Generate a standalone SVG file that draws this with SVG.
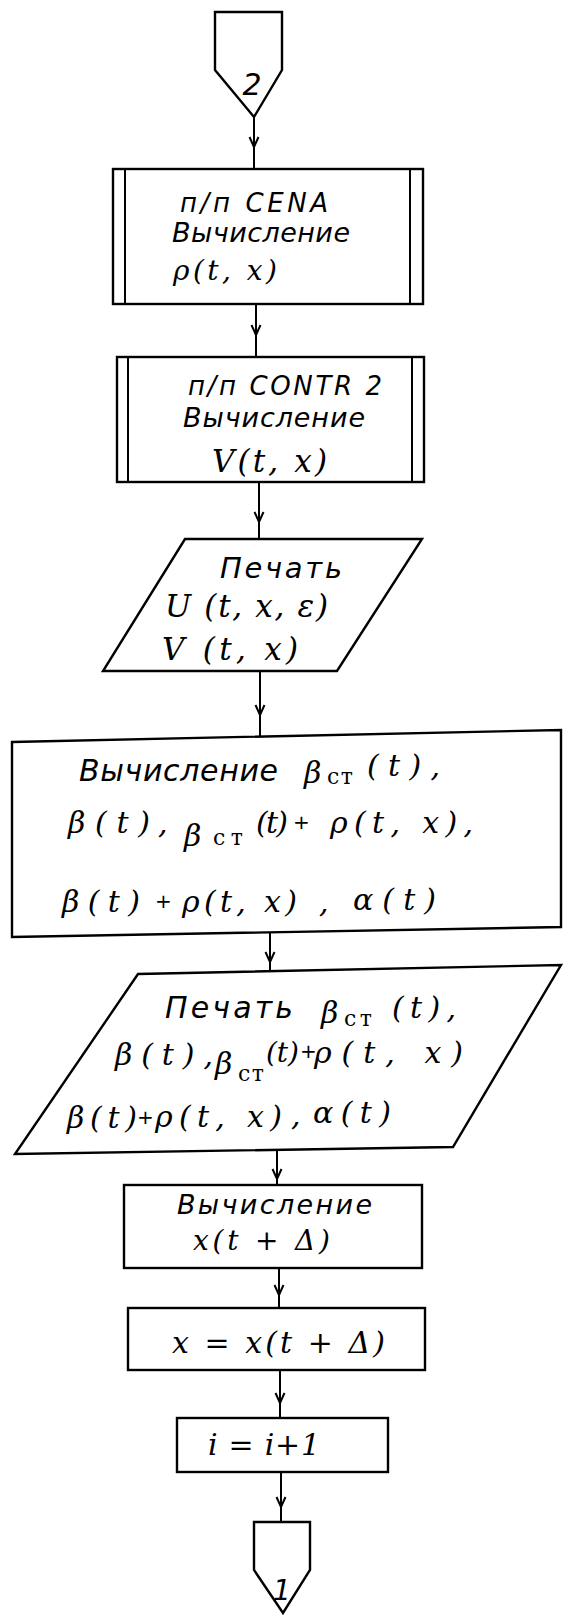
<svg xmlns="http://www.w3.org/2000/svg" width="563" height="1615" viewBox="0 0 563 1615">
<style>
.sh{fill:none;stroke:#000;stroke-width:2.4;stroke-linejoin:miter}
.in{fill:none;stroke:#000;stroke-width:2}
.cn{fill:none;stroke:#000;stroke-width:2}
.s{font-family:"DejaVu Sans","Liberation Sans",sans-serif;font-style:italic;fill:#000}
.m{font-family:"DejaVu Serif","Liberation Serif",serif;font-style:italic;fill:#000}
.b{font-size:30px}
.sub{font-size:22px;font-style:normal}
.pl{font-family:"DejaVu Sans","Liberation Sans",sans-serif;font-size:20px;fill:#000}
</style>
<defs>
<marker id="v" viewBox="-11 -6 13 12" markerWidth="13" markerHeight="12" refX="0" refY="0" orient="auto" markerUnits="userSpaceOnUse">
<path d="M-10,-4.5 L0,0 L-10,4.5" fill="none" stroke="#000" stroke-width="2"/>
</marker>
</defs>
<rect width="563" height="1615" fill="#fff"/>

<g id="connectors">
<polyline class="cn" marker-mid="url(#v)" points="254,117 254,147 254,169"/>
<polyline class="cn" marker-mid="url(#v)" points="256,304 256,335 256,357"/>
<polyline class="cn" marker-mid="url(#v)" points="259,482 259,522 259,539"/>
<polyline class="cn" marker-mid="url(#v)" points="260,671 260,715 260,736"/>
<polyline class="cn" marker-mid="url(#v)" points="270,933 270,962 270,971"/>
<polyline class="cn" marker-mid="url(#v)" points="277,1151 277,1179 277,1185"/>
<polyline class="cn" marker-mid="url(#v)" points="279,1268 279,1295 279,1308"/>
<polyline class="cn" marker-mid="url(#v)" points="280,1370 280,1403 280,1418"/>
<polyline class="cn" marker-mid="url(#v)" points="281,1472 281,1507 281,1522"/>
</g>

<g id="conn2">
<path class="sh" d="M215,12 H282 V70 L254,117 L215,70 Z"/>
<text class="s" x="252" y="95" font-size="30" text-anchor="middle">2</text>
</g>

<g id="cena">
<rect class="sh" x="113" y="169" width="310" height="135"/>
<line class="in" x1="125" y1="169" x2="125" y2="304"/>
<line class="in" x1="410" y1="169" x2="410" y2="304"/>
<text class="s" x="180" y="212" font-size="26" textLength="148">п/п CENA</text>
<text class="s" x="172" y="242" font-size="27" textLength="178">Вычисление</text>
<text class="m" x="173" y="280" font-size="28" textLength="104">ρ(t, x)</text>
</g>

<g id="contr2">
<rect class="sh" x="117" y="357" width="307" height="125"/>
<line class="in" x1="128" y1="357" x2="128" y2="482"/>
<line class="in" x1="412" y1="357" x2="412" y2="482"/>
<text class="s" x="188" y="395" font-size="26" textLength="194">п/п CONTR 2</text>
<text class="s" x="183" y="427" font-size="27" textLength="182">Вычисление</text>
<text class="m" x="212" y="472" font-size="31" textLength="115">V(t, x)</text>
</g>

<g id="print1">
<polygon class="sh" points="185,539 422,539 337,671 103,671"/>
<text class="s" x="220" y="578" font-size="29" textLength="122">Печать</text>
<text class="m" x="165" y="617" font-size="31" textLength="163">U (t, x, ε)</text>
<text class="m" x="162" y="660" font-size="31" textLength="136">V (t, x)</text>
</g>

<g id="calc-beta">
<polygon class="sh" points="12,742 561,730 561,927 12,937"/>
<text class="s" x="79" y="781" font-size="30" textLength="199">Вычисление</text>
<text class="m b" x="304" y="783">β</text>
<text class="m sub" x="327" y="784" textLength="26">ст</text>
<text class="m" x="367" y="776" font-size="30" textLength="73">(t),</text>
<text class="m" x="68" y="833" font-size="30" textLength="82">β(t)</text>
<text class="m" x="158" y="833" font-size="30">,</text>
<text class="m b" x="184" y="846">β</text>
<text class="m sub" x="213" y="845" textLength="30">ст</text>
<text class="m" x="256" y="833" font-size="30" textLength="32">(t)</text>
<text class="pl" x="293" y="829">+</text>
<text class="m" x="330" y="833" font-size="30" textLength="143">ρ(t, x),</text>
<text class="m" x="62" y="912" font-size="30" textLength="78">β(t)</text>
<text class="pl" x="155" y="908">+</text>
<text class="m" x="182" y="912" font-size="30" textLength="115">ρ(t, x)</text>
<text class="m" x="319" y="912" font-size="30">,</text>
<text class="m" x="353" y="910" font-size="30" textLength="83">α(t)</text>
</g>

<g id="print2">
<polygon class="sh" points="138,974 561,965 453,1147 15,1154"/>
<text class="s" x="165" y="1018" font-size="30" textLength="128">Печать</text>
<text class="m b" x="321" y="1023">β</text>
<text class="m sub" x="344" y="1026" textLength="28">ст</text>
<text class="m" x="392" y="1018" font-size="30" textLength="64">(t),</text>
<text class="m" x="115" y="1065" font-size="30" textLength="98">β(t),</text>
<text class="m b" x="215" y="1074">β</text>
<text class="m sub" x="238" y="1081" textLength="26">ст</text>
<text class="m" x="266" y="1062" font-size="28" textLength="33">(t)</text>
<text class="pl" x="300" y="1058" font-size="15">+</text>
<text class="m" x="314" y="1063" font-size="30" textLength="149">ρ(t, x)</text>
<text class="m" x="67" y="1128" font-size="30" textLength="70">β(t)</text>
<text class="pl" x="137" y="1124">+</text>
<text class="m" x="155" y="1127" font-size="30" textLength="127">ρ(t, x)</text>
<text class="m" x="291" y="1125" font-size="30">,</text>
<text class="m" x="313" y="1123" font-size="30" textLength="78">α(t)</text>
</g>

<g id="calc-x">
<rect class="sh" x="124" y="1185" width="298" height="83"/>
<text class="s" x="177" y="1214" font-size="27" textLength="195">Вычисление</text>
<text class="m" x="193" y="1250" font-size="28" textLength="137">x(t + Δ)</text>
</g>

<g id="assign-x">
<rect class="sh" x="128" y="1308" width="297" height="62"/>
<text class="m" x="172" y="1353" font-size="30" textLength="213">x = x(t + Δ)</text>
</g>

<g id="inc-i">
<rect class="sh" x="177" y="1418" width="211" height="54"/>
<text class="m" x="208" y="1455" font-size="30" textLength="112">i = i+1</text>
</g>

<g id="conn1">
<path class="sh" d="M254,1522 H310 V1570 L283,1613 L254,1570 Z"/>
<text class="s" x="282" y="1600" font-size="28" text-anchor="middle">1</text>
</g>
</svg>
